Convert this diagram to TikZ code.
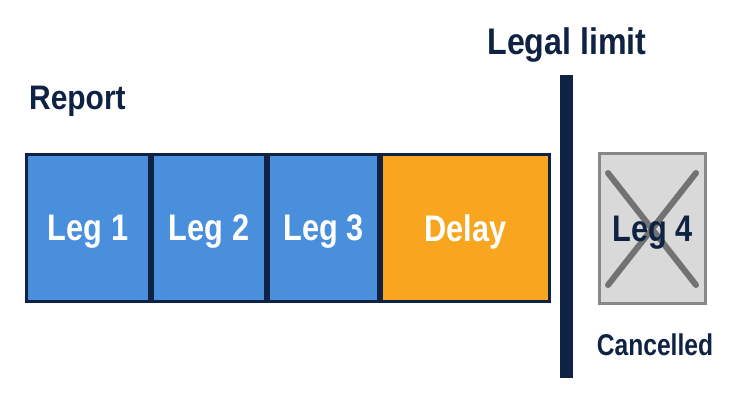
\documentclass[tikz,border=0pt]{standalone}
\usepackage{fontspec}
\setmainfont{Liberation Sans}
\usepackage{xcolor}
\usetikzlibrary{calc}

\definecolor{navy}{HTML}{0F2244}
\definecolor{legblue}{HTML}{4A8FDC}
\definecolor{delayorange}{HTML}{F8A61F}
\definecolor{cancelgray}{HTML}{D9D9D9}
\definecolor{crossgray}{HTML}{727272}

\newcommand{\narrow}[2][0.83]{\scalebox{#1}[1]{#2}}

\begin{document}
\begin{tikzpicture}[x=1pt,y=-1pt,
  seg/.style={draw=navy,line width=3pt,minimum height=147pt,inner sep=0pt,
              text=white,font=\bfseries\fontsize{37}{40}\selectfont},
  lbl/.style={text=navy,inner sep=0pt,font=\bfseries\fontsize{37}{40}\selectfont},
  txt/.style={inner sep=0pt,yshift=-4pt}
]
  \useasboundingbox[fill=white] (0,0) rectangle (730,406);

  % the legs of the duty
  \node[seg,fill=legblue,minimum width=123pt]     (leg1)  at (88,228)    {};
  \node[seg,fill=legblue,minimum width=113pt]     (leg2)  at (209,228)   {};
  \node[seg,fill=legblue,minimum width=110pt]     (leg3)  at (323.5,228) {};
  \node[seg,fill=delayorange,minimum width=168pt] (delay) at (465.5,228) {};
  \foreach \n/\t in {leg1/Leg 1,leg2/Leg 2,leg3/Leg 3,delay/Delay}
    \node[seg,draw=none,txt] (\n txt) at (\n.center) {\narrow{\t}};

  % limit
  \node[fill=navy,minimum width=13pt,minimum height=303pt,inner sep=0pt] (bar) at (566.5,226.5) {};
  \node[lbl] (limit) at (567,45) {\narrow[0.87]{Legal limit}};
  \node[lbl,anchor=west,font=\bfseries\fontsize{34}{37}\selectfont] (report) at (29,101) {\narrow[0.88]{Report}};

  % cancelled leg
  \node[draw=crossgray!85,line width=3pt,fill=cancelgray,minimum width=106pt,
        minimum height=150pt,inner sep=0pt] (leg4) at (652.5,228.5) {};
  \draw[crossgray,line width=6pt,line cap=round]
    ($(leg4.north west)+(10,21)$) -- ($(leg4.south east)+(-11,-20)$)
    ($(leg4.north east)+(-11,21)$) -- ($(leg4.south west)+(10,-20)$);
  \node[lbl,txt] (leg4txt) at (leg4.center) {\narrow{Leg 4}};
  \node[lbl,font=\bfseries\fontsize{30}{33}\selectfont] (cancel) at (655,345) {\narrow[0.82]{Cancelled}};
\end{tikzpicture}
\end{document}
